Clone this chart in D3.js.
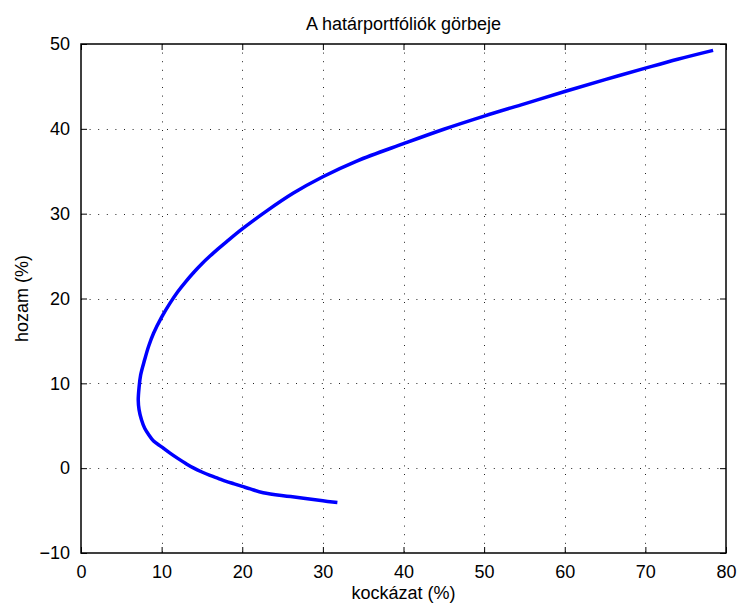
<!DOCTYPE html>
<html>
<head>
<meta charset="utf-8">
<script src="https://cdn.jsdelivr.net/npm/d3@7"></script>
<style>
  body { margin: 0; background: #fff; }
  #chart { width: 738px; height: 604px; }
  text { font-family: "Liberation Sans", Arial, Helvetica, sans-serif; fill: #000; }
</style>
</head>
<body>
<div id="chart"></div>
<script>
// kockázat (%) and hozam (%) along the efficient frontier
const risk = [31.8, 30.0, 26.0, 22.6, 21.0, 20.0, 19.0, 18.0, 17.0, 16.0, 15.0, 14.0, 13.0, 12.0, 11.0, 10.0, 9.0, 8.4, 7.9, 7.5, 7.2, 7.1, 7.2, 7.4, 7.9, 8.4, 9.0, 10.0, 11.0, 12.0, 13.0, 14.0, 15.0, 16.0, 17.0, 18.0, 20.0, 23.0, 26.3, 30.0, 34.2, 40.0, 45.0, 50.0, 55.0, 60.0, 65.0, 70.0, 74.0, 78.4];
const ret  = [-4.05, -3.85, -3.35, -2.9, -2.45, -2.15, -1.85, -1.55, -1.2, -0.85, -0.45, 0.0, 0.55, 1.15, 1.8, 2.5, 3.2, 3.95, 4.7, 5.7, 6.9, 8.0, 9.5, 11.0, 12.8, 14.4, 15.9, 17.8, 19.4, 20.8, 22.0, 23.1, 24.1, 25.0, 25.85, 26.65, 28.2, 30.3, 32.4, 34.35, 36.2, 38.25, 39.95, 41.5, 42.95, 44.4, 45.8, 47.15, 48.2, 49.25];

const xTicks = [0, 10, 20, 30, 40, 50, 60, 70, 80];
const yTicks = [-10, 0, 10, 20, 30, 40, 50];

const width = 738, height = 604;
const margin = { left: 81, top: 44, right: 12, bottom: 51 };

const svg = d3.select("#chart").append("svg")
    .attr("width", width)
    .attr("height", height);

const x = d3.scaleLinear().domain([0, 80]).range([margin.left, width - margin.right]);
const y = d3.scaleLinear().domain([-10, 50]).range([height - margin.bottom, margin.top]);

// dotted grid
const grid = svg.append("g")
    .attr("stroke", "#222")
    .attr("stroke-width", 1)
    .attr("stroke-dasharray", "1,7.6");

grid.selectAll("line.gx")
    .data(xTicks.slice(1, -1))
    .enter().append("line")
    .attr("x1", d => Math.round(x(d)) + 0.5)
    .attr("x2", d => Math.round(x(d)) + 0.5)
    .attr("y1", y(50))
    .attr("y2", y(-10));

grid.selectAll("line.gy")
    .data(yTicks.slice(1, -1))
    .enter().append("line")
    .attr("y1", d => Math.round(y(d)) + 0.5)
    .attr("y2", d => Math.round(y(d)) + 0.5)
    .attr("x1", x(0))
    .attr("x2", x(80));

// the frontier curve
const pts = risk.map((r, i) => [r, ret[i]]);
svg.append("path")
    .datum(pts)
    .attr("fill", "none")
    .attr("stroke", "#0000ff")
    .attr("stroke-width", 3.5)
    .attr("stroke-linejoin", "round")
    .attr("d", d3.line().curve(d3.curveCatmullRom.alpha(0.5)).x(d => x(d[0])).y(d => y(d[1])));

// axes with inward ticks on all sides
const tl = 6;
svg.append("g")
    .attr("transform", "translate(0," + y(-10) + ")")
    .call(d3.axisBottom(x).tickValues(xTicks).tickSizeInner(-tl).tickSizeOuter(0).tickPadding(12))
    .call(g => g.select(".domain").remove());
svg.append("g")
    .attr("transform", "translate(0," + y(50) + ")")
    .call(d3.axisTop(x).tickValues(xTicks).tickSizeInner(-tl).tickSizeOuter(0).tickFormat(""))
    .call(g => g.select(".domain").remove());
svg.append("g")
    .attr("transform", "translate(" + x(0) + ",0)")
    .call(d3.axisLeft(y).tickValues(yTicks).tickSizeInner(-tl).tickSizeOuter(0).tickPadding(11).tickFormat(d => d < 0 ? "\u2212" + Math.abs(d) : d))
    .call(g => g.select(".domain").remove());
svg.append("g")
    .attr("transform", "translate(" + x(80) + ",0)")
    .call(d3.axisRight(y).tickValues(yTicks).tickSizeInner(-tl).tickSizeOuter(0).tickFormat(""))
    .call(g => g.select(".domain").remove());

svg.selectAll(".tick text").style("font-size", "18px");
svg.selectAll(".tick line").attr("stroke", "#000");

// frame
svg.append("rect")
    .attr("x", x(0))
    .attr("y", y(50))
    .attr("width", x(80) - x(0))
    .attr("height", y(-10) - y(50))
    .attr("fill", "none")
    .attr("stroke", "#000")
    .attr("stroke-width", 1.5);

// title and labels
svg.append("text")
    .attr("x", (x(0) + x(80)) / 2)
    .attr("y", 30)
    .attr("text-anchor", "middle")
    .style("font-size", "18px")
    .text("A határportfóliók görbeje");

svg.append("text")
    .attr("x", (x(0) + x(80)) / 2)
    .attr("y", 599)
    .attr("text-anchor", "middle")
    .style("font-size", "18px")
    .text("kockázat (%)");

svg.append("text")
    .attr("transform", "translate(28," + (y(20)) + ") rotate(-90)")
    .attr("text-anchor", "middle")
    .style("font-size", "18px")
    .text("hozam (%)");
</script>
</body>
</html>
